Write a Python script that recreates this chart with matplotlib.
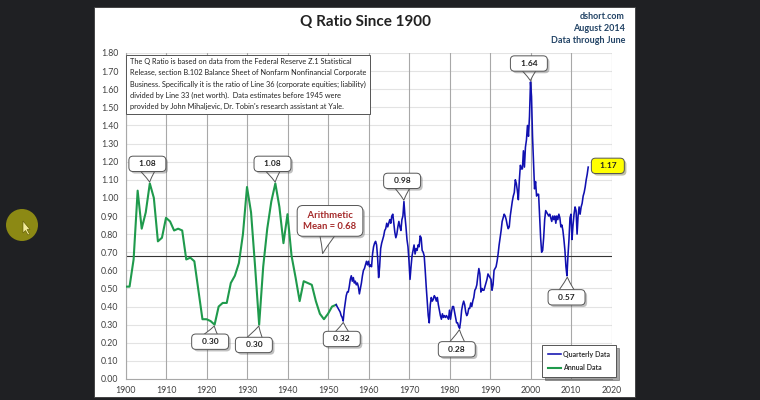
import numpy as np
import matplotlib.pyplot as plt
import matplotlib.patheffects as pe
from matplotlib.patches import Rectangle, Ellipse, Polygon

plt.rcParams['font.family'] = ['Lato', 'DejaVu Sans']

# annual estimates 1900-1952 (green)
annual_years = list(range(1900, 1953))
annual_q = [0.51, 0.51, 0.66, 1.04, 0.83, 0.92, 1.08, 1.00, 0.76, 0.78,
            0.89, 0.87, 0.82, 0.83, 0.82, 0.66, 0.67, 0.65, 0.49, 0.33,
            0.33, 0.32, 0.30, 0.40, 0.42, 0.42, 0.53, 0.57, 0.64, 0.80,
            1.06, 0.92, 0.62, 0.30, 0.62, 0.83, 0.98, 1.08, 0.95, 0.75,
            0.91, 0.68, 0.56, 0.43, 0.54, 0.53, 0.52, 0.43, 0.36, 0.33,
            0.36, 0.40, 0.41]

# quarterly data 1952 Q1 - 2014 Q2 (blue), one row per year
q_start = 1952
quarterly_q = [
    0.41, 0.40, 0.39, 0.38,  # 1952
    0.37, 0.35, 0.34, 0.32,
    0.38, 0.42, 0.46, 0.48,
    0.48, 0.51, 0.55, 0.57,
    0.54, 0.56, 0.53, 0.54,
    0.52, 0.53, 0.51, 0.47,
    0.50, 0.53, 0.57, 0.60,
    0.61, 0.63, 0.65, 0.63,
    0.65, 0.62, 0.63, 0.62,  # 1960
    0.69, 0.73, 0.75, 0.76,
    0.74, 0.67, 0.56, 0.62,
    0.72, 0.75, 0.77, 0.79,
    0.82, 0.83, 0.86, 0.84,
    0.86, 0.88, 0.86, 0.90,
    0.91, 0.86, 0.81, 0.78,
    0.80, 0.84, 0.87, 0.84,
    0.82, 0.88, 0.90, 0.98,
    0.90, 0.84, 0.77, 0.73,
    0.65, 0.55, 0.62, 0.68,  # 1970
    0.71, 0.74, 0.69, 0.72,
    0.71, 0.74, 0.73, 0.79,
    0.78, 0.71, 0.70, 0.68,
    0.60, 0.51, 0.43, 0.35,
    0.31, 0.41, 0.45, 0.43,
    0.44, 0.46, 0.45, 0.43,
    0.45, 0.41, 0.38, 0.35,
    0.33, 0.36, 0.34, 0.35,
    0.34, 0.35, 0.34, 0.33,
    0.38, 0.33, 0.37, 0.40,  # 1980
    0.40, 0.37, 0.34, 0.31,
    0.31, 0.29, 0.28, 0.32,
    0.38, 0.41, 0.43, 0.41,
    0.37, 0.35, 0.36, 0.39,
    0.39, 0.42, 0.40, 0.43,
    0.45, 0.49, 0.50, 0.52,
    0.57, 0.61, 0.58, 0.48,
    0.50, 0.49, 0.49, 0.51,
    0.53, 0.55, 0.58, 0.57,
    0.56, 0.55, 0.49, 0.52,  # 1990
    0.60, 0.61, 0.62, 0.65,
    0.69, 0.74, 0.78, 0.82,
    0.87, 0.89, 0.91, 0.90,
    0.88, 0.85, 0.83, 0.84,
    0.90, 0.94, 0.98, 1.01,
    1.03, 1.10, 1.08, 1.04,
    0.99, 1.10, 1.18, 1.16,
    1.16, 1.26, 1.17, 1.28,
    1.32, 1.40, 1.34, 1.45,
    1.64, 1.56, 1.34, 1.19,  # 2000
    1.05, 1.09, 1.01, 1.02,
    1.02, 0.90, 0.78, 0.70,
    0.71, 0.78, 0.88, 0.93,
    0.92, 0.91, 0.90, 0.91,
    0.89, 0.87, 0.90, 0.88,
    0.90, 0.86, 0.90, 0.88,
    0.91, 0.89, 0.84, 0.85,
    0.82, 0.77, 0.71, 0.62,
    0.57, 0.68, 0.77, 0.89,
    0.91, 0.77, 0.85, 0.91,  # 2010
    0.95, 0.93, 0.80, 0.90,
    0.95, 0.91, 0.95, 0.97,
    1.01, 1.03, 1.06, 1.10,
    1.13, 1.17,
]
quarterly_x = q_start + np.arange(len(quarterly_q)) / 4.0

mean_q = 0.68
x_ticks = list(range(1900, 2021, 10))
y_ticks = [round(v * 0.1, 2) for v in range(19)]

note = ("The Q Ratio is based on data from the Federal Reserve Z.1 Statistical\n"
        "Release, section B.102 Balance Sheet of Nonfarm Nonfinancial Corporate\n"
        "Business. Specifically it is the ratio of Line 36 (corporate equities; liability)\n"
        "divided by Line 33 (net worth).  Data estimates before 1945 were\n"
        "provided by John Mihaljevic, Dr. Tobin's research assistant at Yale.")

W, H = 760, 400
fig = plt.figure(figsize=(7.6, 4), dpi=100, facecolor='#1f2023')

# white chart panel
fig.patches.append(Rectangle((94 / W, 1 - 397 / H), (635 - 94) / W, (397 - 7) / H,
                             transform=fig.transFigure, facecolor='white',
                             edgecolor='#3a3a3a', lw=0.6, zorder=-5))
# pointer highlight on the left
fig.patches.append(Ellipse((22 / W, 1 - 225 / H), 32 / W, 32 / H, transform=fig.transFigure,
                           facecolor='#8c8914', edgecolor='none', zorder=-4))
cur = np.array([[23, 221], [23, 233], [25.5, 230.5], [28, 235], [29.5, 234], [27, 229.5], [30, 229.5]])
fig.patches.append(Polygon(np.column_stack([cur[:, 0] / W, 1 - cur[:, 1] / H]), closed=True,
                           transform=fig.transFigure, facecolor='#f3ec9a', edgecolor='#5a5500',
                           lw=0.4, zorder=-3))

ax = fig.add_axes([125.5 / W, 1 - 379 / H, 486 / W, 326 / H])
ax.set_facecolor('none')
ax.set_xlim(1900, 2020)
ax.set_ylim(0, 1.8)
ax.set_xticks(x_ticks)
ax.set_yticks(y_ticks)
ax.set_yticklabels(['%.2f' % v for v in y_ticks])
ax.tick_params(length=0, labelsize=6.3, colors='#404040', pad=5)
for v in y_ticks:
    ax.axhline(v, color='#e3e3e3', lw=0.8, zorder=0)
for x in x_ticks:
    ax.axvline(x, color='#a8a8a8', lw=0.8, zorder=0)
for s in ['top', 'right']:
    ax.spines[s].set_visible(False)
for s in ['left', 'bottom']:
    ax.spines[s].set_color('#a8a8a8')
    ax.spines[s].set_linewidth(0.8)

ax.axhline(mean_q, color='#333333', lw=0.8, zorder=2)
ax.plot(annual_years, annual_q, color='#1f9a4c', lw=1.5, zorder=3, label='Annual Data')
ax.plot(quarterly_x, quarterly_q, color='#1010b0', lw=1.15, zorder=4, label='Quarterly Data')

h, l = ax.get_legend_handles_labels()
leg = ax.legend(h[::-1], l[::-1], loc='lower right', bbox_to_anchor=(1.009, 0.006),
                borderaxespad=0, fontsize=5, frameon=True, fancybox=False, shadow=True,
                handlelength=1.8, borderpad=0.8, labelspacing=1.0, handletextpad=0.4)
leg.get_frame().set_edgecolor('#555555')
leg.get_frame().set_linewidth(0.7)
for t in leg.get_texts():
    t.set_fontweight('bold')
    t.set_color('#333333')


def callout(txt, xy, xytext, color='#222222', fc='white', arrow=True, size=6, pad=0.5):
    ap = None
    if arrow:
        ap = dict(arrowstyle='wedge,tail_width=3.0,shrink_factor=0.45', fc=fc, ec='#555555',
                  lw=0.7, patchA=None, shrinkA=0, shrinkB=1)
    ann = ax.annotate(txt, xy=xy, xytext=xytext, ha='center', va='center',
                      fontsize=size, fontweight='bold', color=color,
                      bbox=dict(boxstyle='round,pad=%s' % pad, fc=fc, ec='#555555', lw=0.7),
                      arrowprops=ap, zorder=6)
    ann.get_bbox_patch().set_path_effects([pe.SimplePatchShadow(offset=(1.5, -1.5), alpha=0.35),
                                           pe.Normal()])
    return ann


callout('   1.08   ', (1906, 1.08), (1905.4, 1.188))
callout('   1.08   ', (1937, 1.08), (1936.3, 1.188))
callout('   0.30   ', (1922, 0.30), (1920.9, 0.206))
callout('   0.30   ', (1933, 0.30), (1931.7, 0.188))
callout('   0.32   ', (1953.8, 0.32), (1953.4, 0.221))
callout('   0.98   ', (1968.75, 0.98), (1968.3, 1.094))
callout('   0.28   ', (1982.5, 0.28), (1981.8, 0.164))
callout('   1.64   ', (2000, 1.64), (1999.6, 1.742))
callout('   0.57   ', (2009.1, 0.57), (2008.9, 0.451))
callout('  1.17  ', (2014.25, 1.17), (2019.1, 1.177), fc='#ffff00', arrow=False)
callout('  Arithmetic  \nMean = %.2f' % mean_q, (1948.6, 0.685), (1950.5, 0.873),
        color='#a52a2a', size=6.8, pad=0.6)

nt = ax.text(1901.0, 1.77, note, fontsize=5.35, va='top', ha='left', color='#222222',
             linespacing=1.66, zorder=7,
             bbox=dict(boxstyle='square,pad=0.5', fc='white', ec='#555555', lw=0.7))
nt.get_bbox_patch().set_path_effects([pe.SimplePatchShadow(offset=(1.2, -1.2), alpha=0.3),
                                      pe.Normal()])

fig.text(365 / W, 1 - 22 / H, 'Q Ratio Since 1900', ha='center', va='center',
         fontsize=11, fontweight='bold', color='#222222')
fig.text(625 / W, 1 - 12 / H, 'dshort.com\nAugust 2014\nData through June', ha='right',
         va='top', fontsize=6.5, fontweight='bold', color='#234466', linespacing=1.4)

fig.savefig('out.png', dpi=100, facecolor=fig.get_facecolor())
